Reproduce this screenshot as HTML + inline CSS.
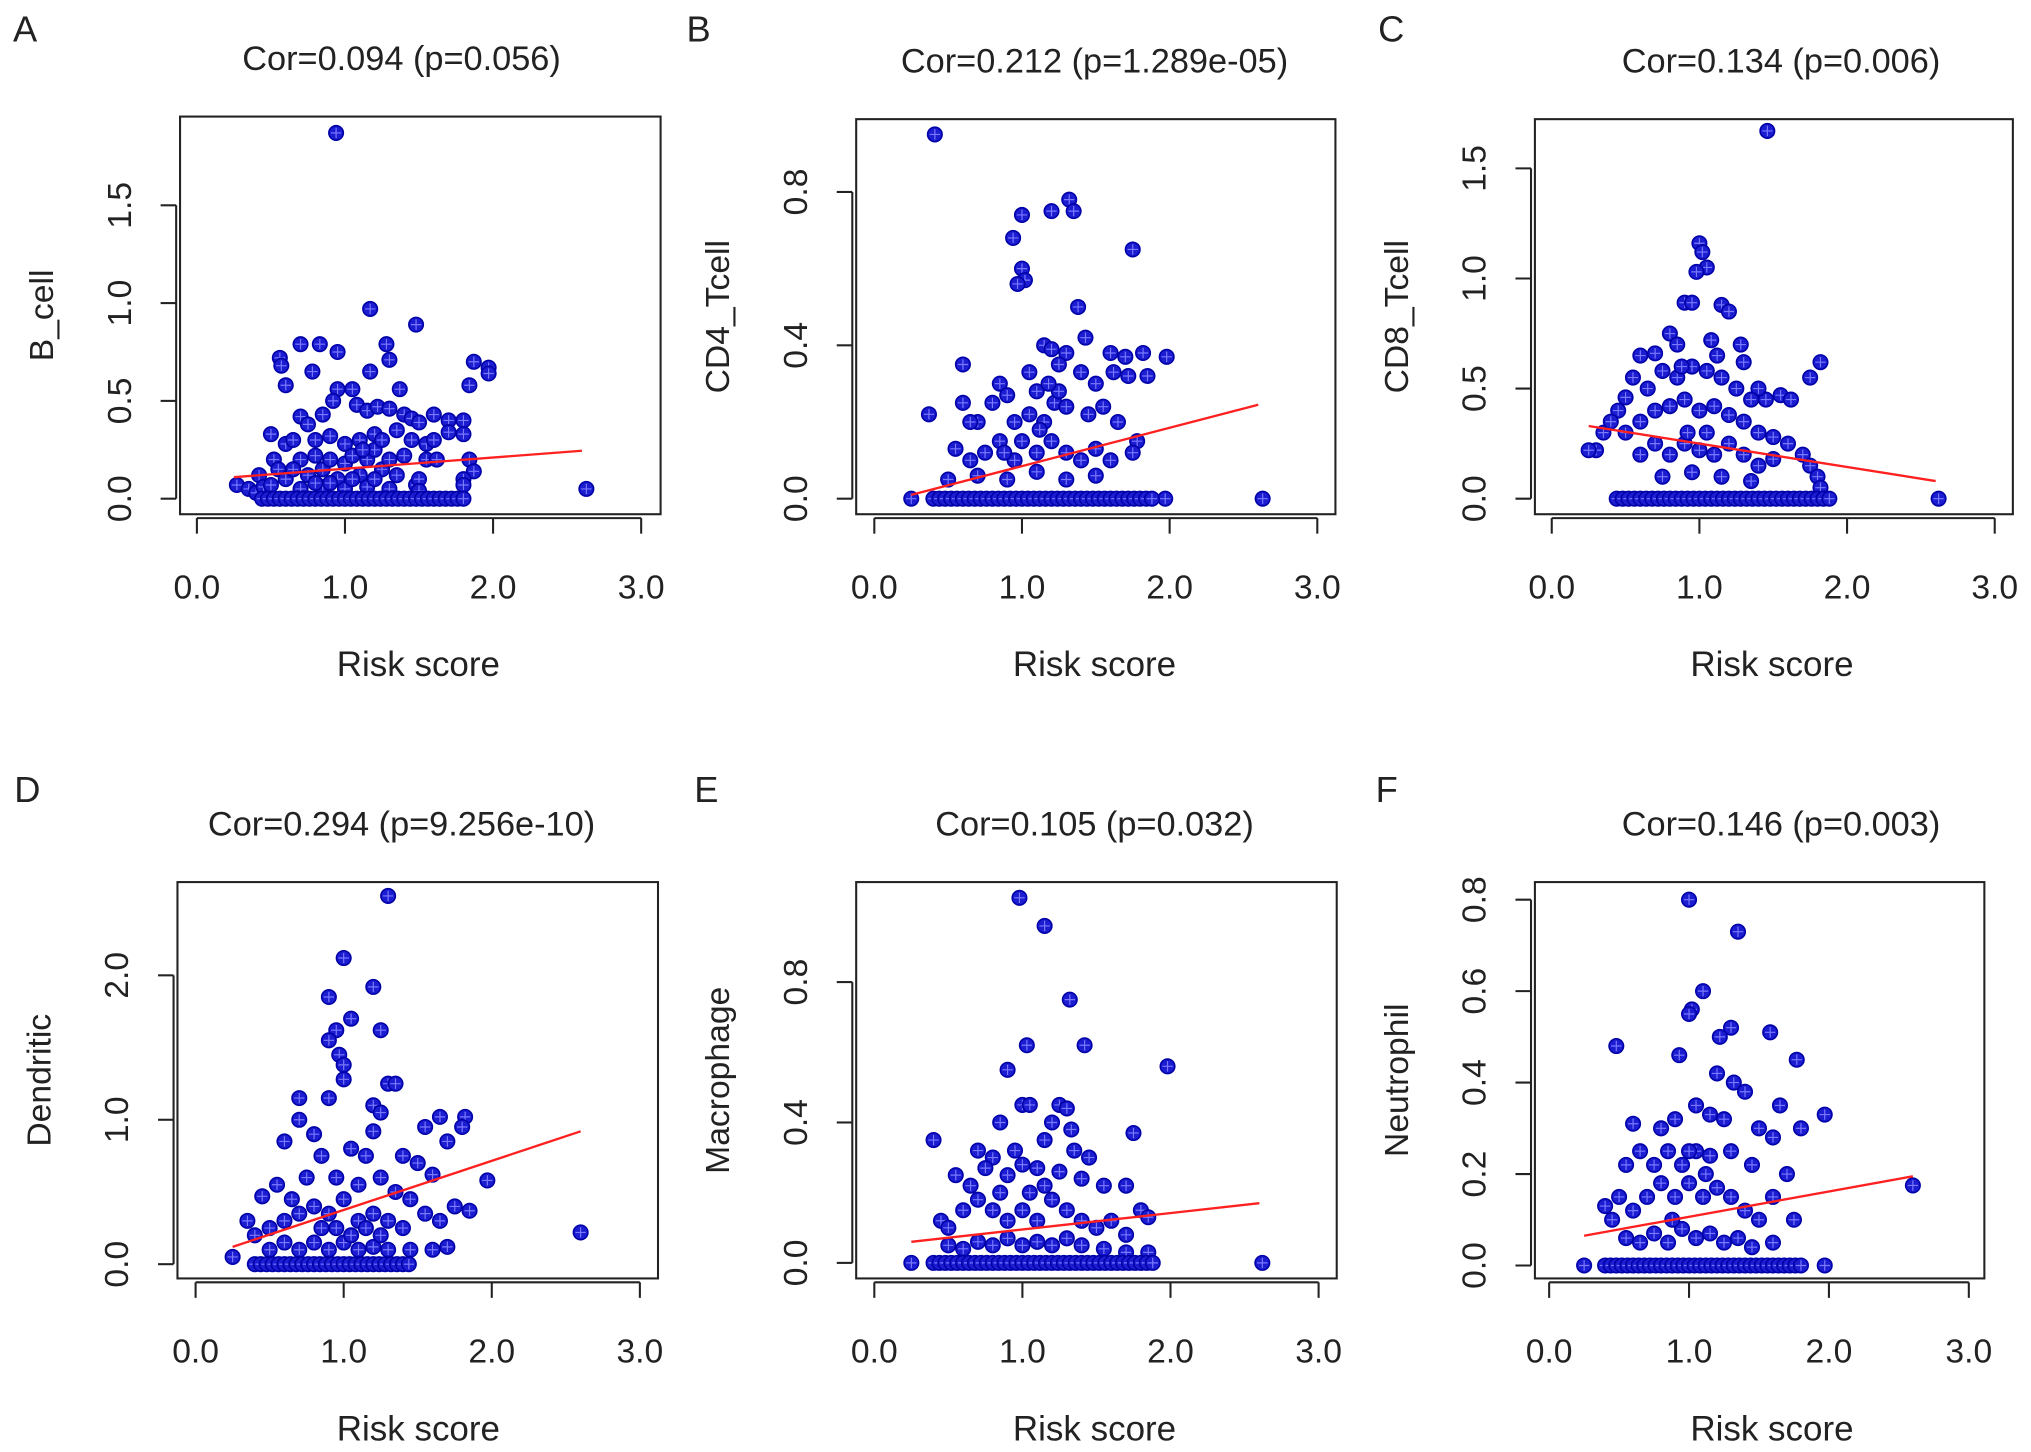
<!DOCTYPE html>
<html><head><meta charset="utf-8"><style>
html,body{margin:0;padding:0;background:#fff}
svg{display:block}
text{font-family:"Liberation Sans",Arial,sans-serif;fill:#222}
</style></head><body>
<svg id="fig" width="2031" height="1452" viewBox="0 0 1568 1121" xmlns="http://www.w3.org/2000/svg"></svg>
<script>
const titles=["Cor=0.094 (p=0.056)","Cor=0.212 (p=1.289e-05)","Cor=0.134 (p=0.006)","Cor=0.294 (p=9.256e-10)","Cor=0.105 (p=0.032)","Cor=0.146 (p=0.003)"];
const yTitles=["B_cell","CD4_Tcell","CD8_Tcell","Dendritic","Macrophage","Neutrophil"];
const letters=["A","B","C","D","E","F"];
const xTicks=[0,1,2,3];
const xTickLabels=["0.0","1.0","2.0","3.0"];
const yTicksA=[0,0.5,1.0,1.5], yLabA=["0.0","0.5","1.0","1.5"];
const yTicksB=[0,0.4,0.8], yLabB=["0.0","0.4","0.8"];
const yTicksC=[0,0.5,1.0,1.5], yLabC=["0.0","0.5","1.0","1.5"];
const yTicksD=[0,1,2], yLabD=["0.0","1.0","2.0"];
const yTicksE=[0,0.4,0.8], yLabE=["0.0","0.4","0.8"];
const yTicksF=[0,0.2,0.4,0.6,0.8], yLabF=["0.0","0.2","0.4","0.6","0.8"];
const fitA=[[0.25,0.11],[2.6,0.245]];
const fitB=[[0.25,0.01],[2.6,0.245]];
const fitC=[[0.25,0.33],[2.6,0.08]];
const fitD=[[0.25,0.12],[2.6,0.92]];
const fitE=[[0.25,0.06],[2.6,0.17]];
const fitF=[[0.25,0.065],[2.6,0.195]];
const zeroX=[0.4,0.44,0.48,0.52,0.56,0.6,0.64,0.68,0.72,0.76,0.8,0.84,0.88,0.92,0.96,1.0,1.04,1.08,1.12,1.16,1.2,1.24,1.28,1.32,1.36,1.4,1.44,1.48,1.52,1.56,1.6,1.64,1.68,1.72,1.76,1.8,1.84,1.88];
const zeroRange=[[0.42,1.82],[0.35,1.9],[0.42,1.98],[0.4,1.45],[0.4,1.9],[0.4,1.8]];
const ptsA=[[0.94,1.87],[1.17,0.97],[1.48,0.89],[0.7,0.79],[0.83,0.79],[0.95,0.75],[1.28,0.79],[1.3,0.71],[0.56,0.72],[0.57,0.68],[0.78,0.65],[1.17,0.65],[1.87,0.7],[1.97,0.67],[1.97,0.64],[1.84,0.58],[0.6,0.58],[0.95,0.56],[1.05,0.56],[1.37,0.56],[0.92,0.5],[1.08,0.48],[1.15,0.45],[1.22,0.47],[1.3,0.46],[1.4,0.43],[1.45,0.41],[1.5,0.39],[1.6,0.43],[1.7,0.4],[1.8,0.4],[1.7,0.34],[1.8,0.33],[0.7,0.42],[0.75,0.38],[0.85,0.43],[0.5,0.33],[0.6,0.28],[0.65,0.3],[0.8,0.3],[0.9,0.32],[1.0,0.28],[1.1,0.3],[1.2,0.33],[1.35,0.35],[1.45,0.3],[1.55,0.28],[1.6,0.3],[1.55,0.2],[1.62,0.2],[1.84,0.2],[1.87,0.14],[1.8,0.1],[1.8,0.07],[1.48,0.07],[1.5,0.1],[1.5,0.04],[0.27,0.07],[0.35,0.05],[0.4,0.03],[0.42,0.12],[0.45,0.06],[0.5,0.07],[0.52,0.2],[0.55,0.15],[0.6,0.1],[0.7,0.2],[0.75,0.12],[0.8,0.22],[0.85,0.15],[0.9,0.2],[0.95,0.1],[1.0,0.18],[1.05,0.22],[1.1,0.12],[1.15,0.2],[1.2,0.25],[1.25,0.15],[1.3,0.2],[1.35,0.12],[1.4,0.22],[1.3,0.05],[1.15,0.06],[1.0,0.05],[0.85,0.06],[0.7,0.05],[2.63,0.05],[0.65,0.15],[0.9,0.08],[1.05,0.1],[1.2,0.1],[0.8,0.08],[1.25,0.3],[1.12,0.25]];
const ptsB=[[0.41,0.95],[1.32,0.78],[1.2,0.75],[1.35,0.75],[1.0,0.74],[0.94,0.68],[1.75,0.65],[1.0,0.6],[1.02,0.57],[0.97,0.56],[1.38,0.5],[1.15,0.4],[1.2,0.39],[1.3,0.38],[1.43,0.42],[1.6,0.38],[1.7,0.37],[1.82,0.38],[1.98,0.37],[0.6,0.35],[0.85,0.3],[1.25,0.35],[1.4,0.33],[1.5,0.3],[1.62,0.33],[1.72,0.32],[1.85,0.32],[0.37,0.22],[0.6,0.25],[0.7,0.2],[0.8,0.25],[0.9,0.27],[1.05,0.22],[1.1,0.28],[1.15,0.2],[1.22,0.25],[1.3,0.24],[1.45,0.22],[1.55,0.24],[1.65,0.2],[1.78,0.15],[1.75,0.12],[0.55,0.13],[0.65,0.1],[0.75,0.12],[0.85,0.15],[0.95,0.1],[1.0,0.15],[1.1,0.12],[1.2,0.15],[1.3,0.12],[1.4,0.1],[1.5,0.13],[1.6,0.1],[0.5,0.05],[0.7,0.06],[0.9,0.05],[1.1,0.07],[1.3,0.05],[1.5,0.06],[0.65,0.2],[1.25,0.28],[1.05,0.33],[0.95,0.2],[2.63,0],[0.25,0],[1.97,0],[1.12,0.18],[1.18,0.3],[0.88,0.12]];
const ptsC=[[1.46,1.67],[1.0,1.16],[1.02,1.12],[1.05,1.05],[0.98,1.03],[0.9,0.89],[0.95,0.89],[1.15,0.88],[1.2,0.85],[1.28,0.7],[0.8,0.75],[0.85,0.7],[0.7,0.66],[0.6,0.65],[1.08,0.72],[1.3,0.62],[1.82,0.62],[1.55,0.47],[1.62,0.45],[1.75,0.55],[1.45,0.45],[1.4,0.5],[0.5,0.46],[0.45,0.4],[0.55,0.55],[0.65,0.5],[0.75,0.58],[0.85,0.55],[0.95,0.6],[1.05,0.58],[1.15,0.55],[1.25,0.5],[1.35,0.45],[0.3,0.22],[0.35,0.3],[0.4,0.35],[0.5,0.3],[0.6,0.35],[0.7,0.4],[0.8,0.42],[0.9,0.45],[1.0,0.4],[1.1,0.42],[1.2,0.38],[1.3,0.35],[1.4,0.3],[1.5,0.28],[1.6,0.25],[1.7,0.2],[1.75,0.15],[1.8,0.1],[1.82,0.05],[0.6,0.2],[0.7,0.25],[0.8,0.2],[0.9,0.25],[1.0,0.22],[1.1,0.2],[1.2,0.25],[1.3,0.2],[1.4,0.15],[1.5,0.18],[0.75,0.1],[0.95,0.12],[1.15,0.1],[1.35,0.08],[2.62,0],[0.25,0.22],[0.92,0.3],[1.05,0.3],[1.12,0.65],[0.88,0.6]];
const ptsD=[[1.3,2.55],[1.0,2.12],[1.2,1.92],[0.9,1.85],[1.05,1.7],[0.95,1.62],[1.25,1.62],[0.9,1.55],[0.97,1.45],[1.0,1.38],[1.0,1.28],[1.3,1.25],[1.35,1.25],[0.7,1.15],[1.2,1.1],[0.9,1.15],[1.25,1.05],[1.65,1.02],[1.82,1.02],[1.8,0.95],[1.55,0.95],[1.7,0.85],[1.2,0.92],[0.7,1.0],[0.6,0.85],[0.8,0.9],[0.85,0.75],[1.05,0.8],[1.15,0.75],[1.4,0.75],[1.5,0.7],[1.6,0.62],[1.97,0.58],[1.75,0.4],[1.85,0.37],[0.45,0.47],[0.55,0.55],[0.65,0.45],[0.75,0.6],[0.95,0.6],[1.1,0.55],[1.25,0.6],[1.35,0.5],[1.45,0.45],[1.55,0.35],[1.65,0.3],[0.35,0.3],[0.4,0.2],[0.5,0.25],[0.6,0.3],[0.7,0.35],[0.8,0.4],[0.9,0.35],[1.0,0.45],[1.1,0.3],[1.2,0.35],[1.3,0.3],[1.4,0.25],[0.5,0.1],[0.6,0.15],[0.7,0.1],[0.8,0.15],[0.9,0.1],[1.0,0.15],[1.1,0.1],[1.2,0.12],[1.3,0.1],[1.45,0.1],[1.6,0.1],[1.7,0.12],[2.6,0.22],[0.25,0.05],[0.85,0.25],[1.05,0.2],[1.15,0.25],[0.95,0.25],[1.25,0.2]];
const ptsE=[[0.98,1.04],[1.15,0.96],[1.32,0.75],[0.9,0.55],[1.03,0.62],[1.42,0.62],[1.98,0.56],[1.75,0.37],[0.4,0.35],[1.0,0.45],[1.05,0.45],[1.25,0.45],[1.3,0.44],[0.85,0.4],[1.2,0.4],[1.33,0.38],[0.7,0.32],[0.8,0.3],[0.95,0.32],[1.15,0.35],[1.35,0.32],[1.45,0.3],[0.55,0.25],[0.65,0.22],[0.75,0.27],[0.9,0.25],[1.0,0.28],[1.1,0.27],[1.25,0.26],[1.4,0.24],[1.55,0.22],[1.7,0.22],[1.8,0.15],[1.85,0.13],[0.45,0.12],[0.5,0.1],[0.6,0.15],[0.7,0.18],[0.8,0.15],[0.9,0.12],[1.0,0.15],[1.1,0.12],[1.2,0.18],[1.3,0.15],[1.4,0.12],[1.5,0.1],[1.6,0.12],[1.7,0.08],[0.5,0.05],[0.6,0.04],[0.7,0.06],[0.8,0.05],[0.9,0.07],[1.0,0.05],[1.1,0.06],[1.2,0.05],[1.3,0.07],[1.4,0.05],[1.55,0.04],[1.7,0.03],[1.85,0.03],[2.62,0],[0.25,0],[1.05,0.2],[1.15,0.22],[0.85,0.2]];
const ptsF=[[1.0,0.8],[1.35,0.73],[1.1,0.6],[1.02,0.56],[1.0,0.55],[1.3,0.52],[1.58,0.51],[0.93,0.46],[1.22,0.5],[1.77,0.45],[0.48,0.48],[1.2,0.42],[1.32,0.4],[1.05,0.35],[1.65,0.35],[1.97,0.33],[1.4,0.38],[0.8,0.3],[0.9,0.32],[1.15,0.33],[1.25,0.32],[1.5,0.3],[1.8,0.3],[0.6,0.31],[0.55,0.22],[0.65,0.25],[0.75,0.22],[0.85,0.25],[0.95,0.22],[1.05,0.25],[1.15,0.24],[1.3,0.25],[1.45,0.22],[1.6,0.28],[1.7,0.2],[0.4,0.13],[0.45,0.1],[0.5,0.15],[0.6,0.12],[0.7,0.15],[0.8,0.18],[0.9,0.15],[1.0,0.18],[1.1,0.15],[1.2,0.17],[1.3,0.15],[1.4,0.12],[1.5,0.1],[1.6,0.15],[1.75,0.1],[0.55,0.06],[0.65,0.05],[0.75,0.07],[0.85,0.05],[0.95,0.08],[1.05,0.06],[1.15,0.07],[1.25,0.05],[1.35,0.06],[1.45,0.04],[1.6,0.05],[2.6,0.175],[0.25,0],[1.97,0],[1.0,0.25],[1.12,0.2],[0.88,0.1]];

const panels=[
 {box:[139,90,510,397],x0:152,x3:495,yz:385,yu:151,yT:yTicksA,yL:yLabA,pts:ptsA,fit:fitA,row:0,lx:10,tx:310,rx:323},
 {box:[661,92,1031,397],x0:675,x3:1017,yz:385,yu:296,yT:yTicksB,yL:yLabB,pts:ptsB,fit:fitB,row:0,lx:530,tx:845,rx:845},
 {box:[1185,92,1554,397],x0:1198,x3:1540,yz:385,yu:170,yT:yTicksC,yL:yLabC,pts:ptsC,fit:fitC,row:0,lx:1064,tx:1375,rx:1368},
 {box:[137,681,508,987],x0:151,x3:494,yz:976,yu:111.5,yT:yTicksD,yL:yLabD,pts:ptsD,fit:fitD,row:1,lx:11,tx:310,rx:323},
 {box:[661,681,1032,987],x0:675,x3:1018,yz:975,yu:271,yT:yTicksE,yL:yLabE,pts:ptsE,fit:fitE,row:1,lx:536,tx:845,rx:845},
 {box:[1185,681,1532,987],x0:1196,x3:1520,yz:977,yu:353,yT:yTicksF,yL:yLabF,pts:ptsF,fit:fitF,row:1,lx:1062,tx:1375,rx:1368}
];
const NS="http://www.w3.org/2000/svg";
const svg=document.getElementById('fig');
function mk(tag,attrs,parent){const e=document.createElementNS(NS,tag);for(const k in attrs)e.setAttribute(k,attrs[k]);(parent||svg).appendChild(e);return e;}
panels.forEach((p,i)=>{
  const g=mk('g',{});
  
  
  const sx=v=>p.x0+(p.x3-p.x0)*v/3;
  const sy=v=>p.yz-p.yu*v;
  const [L,T,R,B]=p.box;
  const lt=mk('text',{x:p.lx,y:p.row?619:32,'font-size':28},g);lt.textContent=letters[i];
  
  
  const tt=mk('text',{x:p.tx,y:T-36,'font-size':26.5,'text-anchor':'middle'},g);tt.textContent=titles[i];
  
  
  const fr=mk('rect',{x:L,y:T,width:R-L,height:B-T,fill:'none',stroke:'#222','stroke-width':1.6},g);
  
  
  const xa=mk('g',{},g);
  
  
  mk('line',{x1:sx(0),x2:sx(3),y1:B+3,y2:B+3,stroke:'#222','stroke-width':1.6},xa);
  xTicks.forEach((v,j)=>{
    mk('line',{x1:sx(v),x2:sx(v),y1:B+3,y2:B+15,stroke:'#222','stroke-width':1.6},xa);
    const t=mk('text',{x:sx(v),y:B+65,'font-size':26,'text-anchor':'middle'},xa);t.textContent=xTickLabels[j];
    
    
  });
  const xt=mk('text',{x:p.rx,y:B+125,'font-size':27,'text-anchor':'middle'},g);xt.textContent='Risk score';
  
  
  const ya=mk('g',{},g);
  
  
  const yTop=p.yT[p.yT.length-1];
  mk('line',{x1:L-3,x2:L-3,y1:sy(0),y2:sy(yTop),stroke:'#222','stroke-width':1.6},ya);
  p.yT.forEach((v,j)=>{
    mk('line',{x1:L-15,x2:L-3,y1:sy(v),y2:sy(v),stroke:'#222','stroke-width':1.6},ya);
    const t=mk('text',{x:L-38,y:sy(v),'font-size':26,'text-anchor':'middle',transform:`rotate(-90 ${L-38} ${sy(v)})`},ya);t.textContent=p.yL[j];
    
    
  });
  const ytx=L-98, yty=(T+B)/2;
  const yt=mk('text',{x:ytx,y:yty,'font-size':26,'text-anchor':'middle',transform:`rotate(-90 ${ytx} ${yty})`},g);yt.textContent=yTitles[i];
  
  
  const pg=mk('g',{},g);
  
  
  const all=p.pts.slice();
  zeroX.forEach(x=>{if(x>=zeroRange[i][0]&&x<=zeroRange[i][1])all.push([x,0]);});
  all.forEach(d=>{
    const X=sx(d[0]),Y=sy(d[1]);
    const c=mk('circle',{cx:X,cy:Y,r:5.6,fill:'#1c1cd0',stroke:'#0000a8','stroke-width':1.2},pg);
    
    
    mk('path',{d:`M${X-4} ${Y}H${X+4}M${X} ${Y-4}V${Y+4}`,stroke:'#7a7aff','stroke-width':0.9},pg);
  });
  const fl=mk('line',{x1:sx(p.fit[0][0]),y1:sy(p.fit[0][1]),x2:sx(p.fit[1][0]),y2:sy(p.fit[1][1]),stroke:'#ff2020','stroke-width':1.8},g);
  
  
});
</script>
</body></html>
